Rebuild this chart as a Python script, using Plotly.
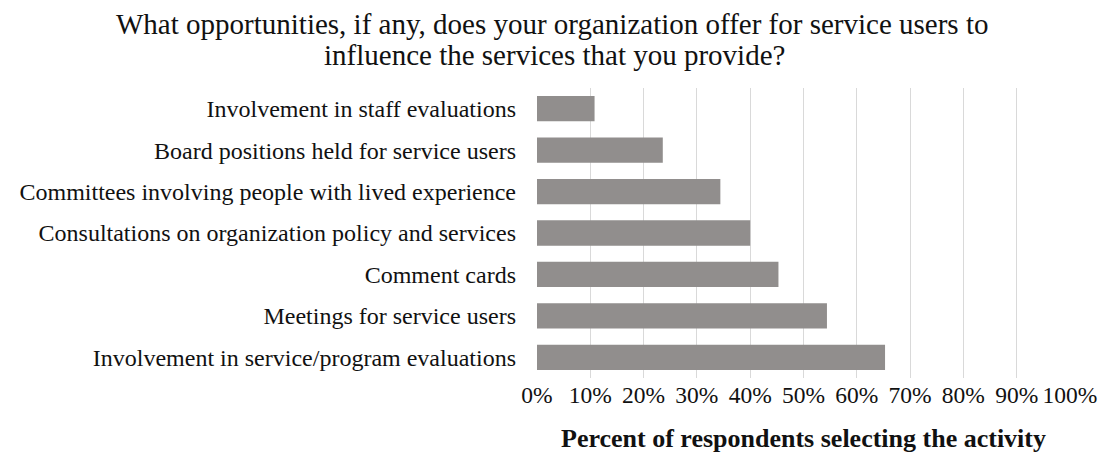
import plotly.graph_objects as go

# Survey responses: share of organizations offering each opportunity (percent)
activities = [
    "Involvement in service/program evaluations",
    "Meetings for service users",
    "Comment cards",
    "Consultations on organization policy and services",
    "Committees involving people with lived experience",
    "Board positions held for service users",
    "Involvement in staff evaluations",
]
percent_selecting = [65.3, 54.4, 45.3, 40.0, 34.4, 23.6, 10.8]

tick_values = [0, 10, 20, 30, 40, 50, 60, 70, 80, 90, 100]
tick_labels = ["0%", "10%", "20%", "30%", "40%", "50%", "60%", "70%", "80%", "90%", "100%"]

title_lines = [
    "What opportunities, if any, does your organization offer for service users to",
    "influence the services that you provide?",
]
x_title = "<b>Percent of respondents selecting the activity</b>"

serif = "Liberation Serif, Times New Roman, serif"
ink = "#111111"

W, H = 1109, 457
M = dict(l=537, r=39, t=88, b=79)
plot_w = W - M["l"] - M["r"]
plot_h = H - M["t"] - M["b"]


def paper_x(px):
    return (px - M["l"]) / plot_w


def paper_y(py):
    return (H - M["b"] - py) / plot_h


fig = go.Figure(
    go.Bar(
        x=percent_selecting,
        y=activities,
        orientation="h",
        marker=dict(color="#918e8d", line=dict(width=0)),
        hoverinfo="x+y",
    )
)

annotations = [
    dict(text=title_lines[0], x=paper_x(W / 2 - 3), y=paper_y(24), size=29),
    dict(text=title_lines[1], x=paper_x(W / 2), y=paper_y(55), size=29),
    dict(text=x_title, x=0.5, y=paper_y(438), size=26),
]

fig.update_layout(
    width=W,
    height=H,
    margin=M,
    paper_bgcolor="white",
    plot_bgcolor="white",
    bargap=0.39,
    showlegend=False,
    font=dict(family=serif, color=ink, size=24),
    annotations=[
        dict(
            text=a["text"],
            x=a["x"],
            y=a["y"],
            xref="paper",
            yref="paper",
            xanchor="center",
            yanchor="middle",
            showarrow=False,
            font=dict(family=serif, size=a["size"], color=ink),
        )
        for a in annotations
    ],
)

fig.update_xaxes(
    range=[0, 100],
    tickmode="array",
    tickvals=tick_values,
    ticktext=tick_labels,
    showgrid=True,
    gridcolor="#d9d9d9",
    gridwidth=1,
    zeroline=False,
    showline=False,
    ticks="",
    tickfont=dict(family=serif, size=23.5, color=ink),
    fixedrange=True,
)

fig.update_yaxes(
    showgrid=False,
    zeroline=False,
    showline=False,
    ticks="",
    ticklabelstandoff=20,
    tickfont=dict(family=serif, size=24, color=ink),
    fixedrange=True,
)

fig.write_html("out.html")
